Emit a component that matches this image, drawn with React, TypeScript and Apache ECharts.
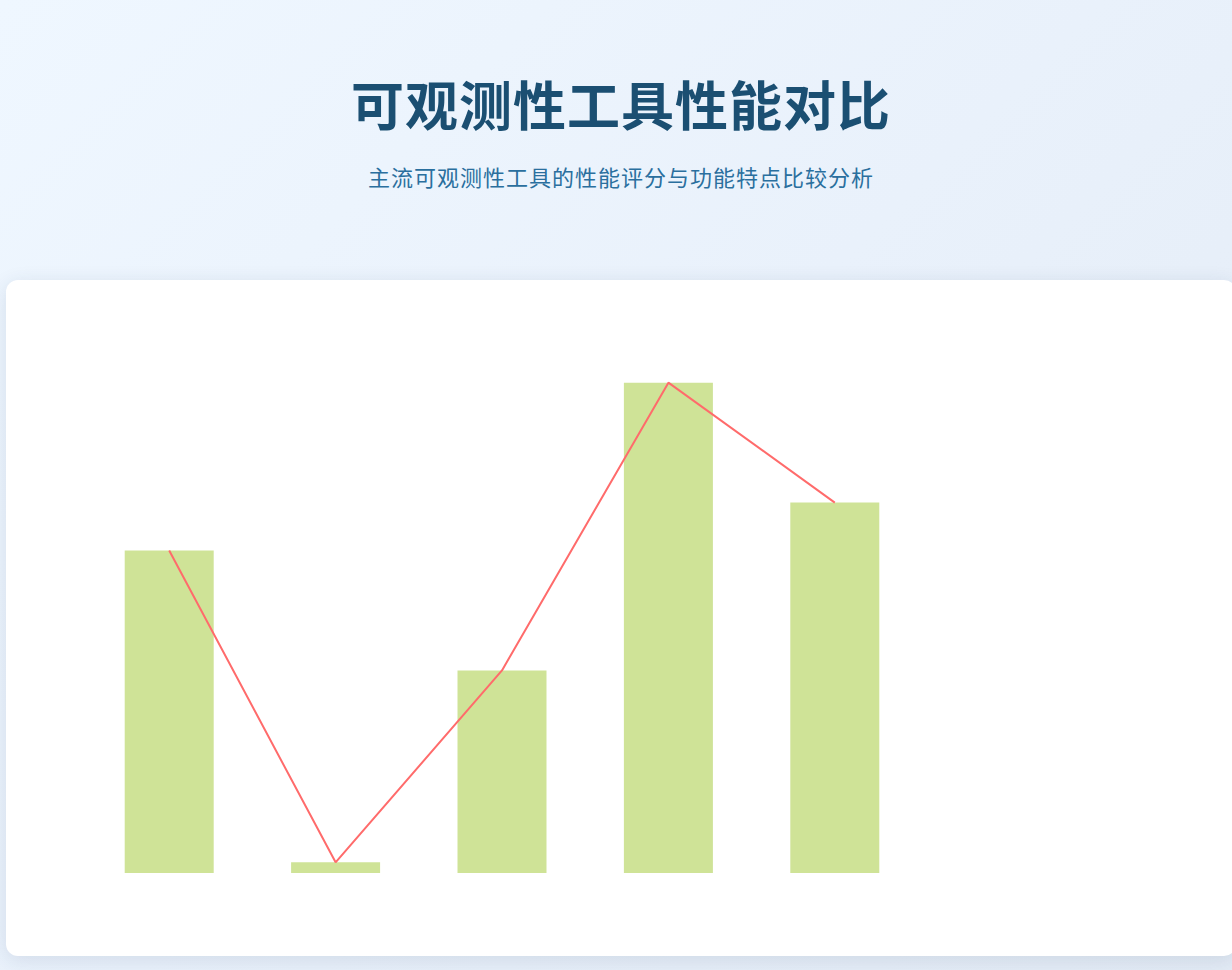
import React, { useEffect, useRef } from "react";
import * as echarts from "echarts";

const categories = ["工具A", "工具B", "工具C", "工具D", "工具E"];
const scores = [60.5, 2, 38, 92, 69.5];
const trend = [60.5, 2, 38, 92, 69.5];
const yMax = 100;

function Chart() {
  const ref = useRef<HTMLDivElement>(null);
  useEffect(() => {
    if (!ref.current) return;
    const chart = echarts.init(ref.current, undefined, { renderer: "svg" });
    chart.setOption({
      animation: false,
      grid: { left: 80, right: 318, top: 60, bottom: 83 },
      xAxis: { type: "category", data: categories, show: false },
      yAxis: { type: "value", min: 0, max: yMax, show: false, splitLine: { show: false } },
      series: [
        {
          type: "bar",
          data: scores,
          barWidth: 89,
          itemStyle: { color: "#cfe397" },
        },
        {
          type: "line",
          data: trend,
          showSymbol: false,
          symbol: "none",
          lineStyle: { color: "#ff6b6b", width: 2 },
          itemStyle: { color: "#ff6b6b" },
        },
      ],
    });
    return () => chart.dispose();
  }, []);
  return <div ref={ref} style={{ width: "100%", height: "100%" }} />;
}

export default function App() {
  return (
    <div
      style={{
        position: "fixed",
        inset: 0,
        width: 1232,
        height: 970,
        overflow: "hidden",
        background: "linear-gradient(135deg, #eff7ff 0%, #e9f1fb 50%, #e3ebf5 100%)",
        fontFamily: "'Noto Sans CJK SC', 'Noto Sans', sans-serif",
      }}
    >
      <div
        style={{
          position: "absolute",
          left: 6,
          top: 0,
          width: 1230,
          textAlign: "center",
        }}
      >
        <div
          style={{
            position: "absolute",
            top: 63,
            left: 0,
            width: "100%",
            fontSize: 53,
            fontWeight: 700,
            color: "#1b4f72",
            lineHeight: "80px",
            letterSpacing: 1,
          }}
        >
          可观测性工具性能对比
        </div>
        <div
          style={{
            position: "absolute",
            top: 160,
            left: 0,
            width: "100%",
            fontSize: 22,
            color: "#2a6f9e",
            lineHeight: "32px",
            letterSpacing: 1,
          }}
        >
          主流可观测性工具的性能评分与功能特点比较分析
        </div>
      </div>
      <div
        style={{
          position: "absolute",
          left: 6,
          top: 280,
          width: 1230,
          height: 676,
          background: "#ffffff",
          borderRadius: 12,
          boxShadow: "0 4px 20px rgba(30, 60, 100, 0.12)",
        }}
      >
        <Chart />
      </div>
    </div>
  );
}
